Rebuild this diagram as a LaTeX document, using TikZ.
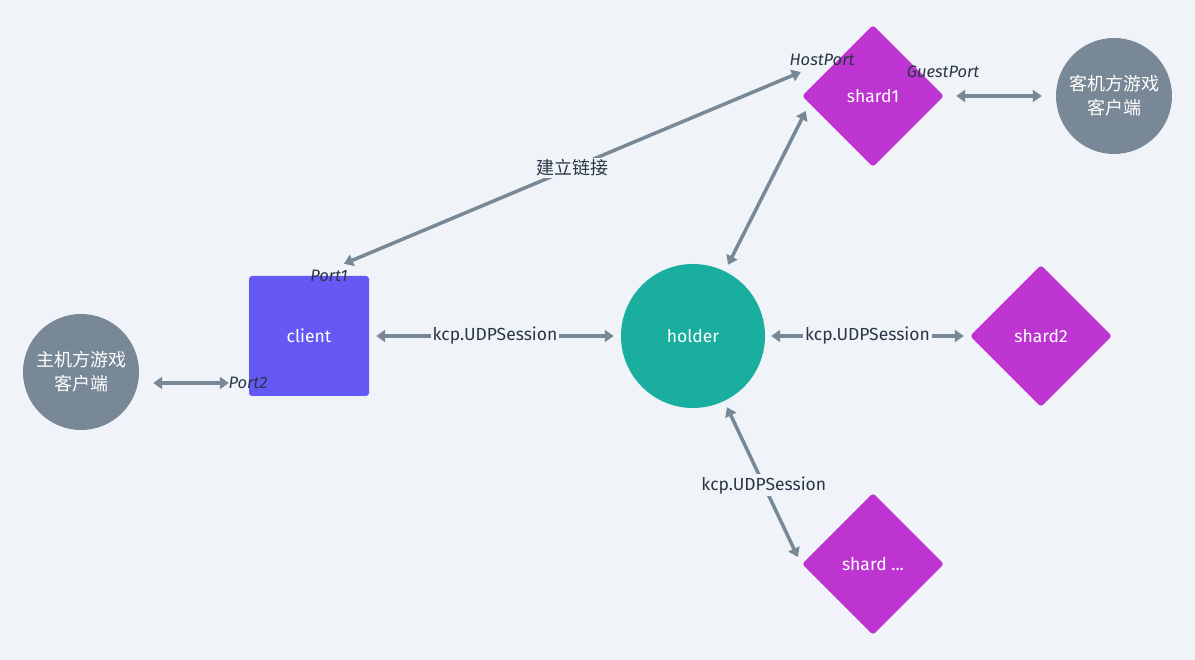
\documentclass[tikz,border=0pt]{standalone}
\usepackage{fontspec}
\setmainfont{Fira Sans}
\newfontfamily\cjk{Noto Sans CJK SC}
\usetikzlibrary{shapes.geometric,arrows.meta}
\definecolor{bg}{RGB}{240,244,248}
\definecolor{clientc}{RGB}{101,88,245}
\definecolor{holderc}{RGB}{26,174,159}
\definecolor{shardc}{RGB}{189,52,209}
\definecolor{greyc}{RGB}{120,136,150}
\definecolor{txt}{RGB}{41,54,70}
\tikzset{
  lbl/.style={font=\fontsize{17.5}{21}\selectfont, text=txt, fill=bg, inner sep=2pt},
  portlbl/.style={font=\fontsize{16.5}{20}\selectfont\itshape, text=txt, inner sep=0pt},
  conn/.style={draw=greyc, line width=3.5pt, {Triangle[length=9pt,width=12pt]}-{Triangle[length=9pt,width=12pt]}},
  shardbox/.style={diamond, aspect=1, fill=shardc, minimum width=142pt, minimum height=142pt, inner sep=0pt, rounded corners=3pt, text=white, font=\fontsize{17.5}{21}\selectfont},
  gamec/.style={circle, fill=greyc, minimum size=116pt, inner sep=0pt, text=white, align=center, font=\cjk\fontsize{18}{24}\selectfont},
}
\begin{document}
\begin{tikzpicture}[x=1pt,y=-1pt]
\fill[bg] (0,0) rectangle (1195,660);
\useasboundingbox (0,0) rectangle (1195,660);

\node[rectangle, fill=clientc, minimum size=120pt, inner sep=0pt, rounded corners=3pt, text=white, font=\fontsize{17.5}{21}\selectfont] (client) at (309,336) {client};
\node[circle, fill=holderc, minimum size=144pt, inner sep=0pt, text=white, font=\fontsize{17.5}{21}\selectfont] (holder) at (693,336) {holder};
\node[shardbox] (shard1) at (873,96) {shard1};
\node[shardbox] (shard2) at (1041,336) {shard2};
\node[shardbox] (shardn) at (873,564) {shard ...};
\node[gamec] (host) at (81,372) {主机方游戏\\客户端};
\node[gamec] (guest) at (1114,96) {客机方游戏\\客户端};

% connector end points
\coordinate (p2a) at ([shift={(14,11)}]host.east);
\coordinate (p2b) at ([shift={(-20,47)}]client.west);
\coordinate (c1) at ([shift={(35,-12)}]client.north);
\coordinate (s1h) at ([shift={(-1,-24)}]shard1.west);
\coordinate (s1b) at ([shift={(4,15)}]shard1.west);
\coordinate (hb) at ([shift={(35,1)}]holder.north);
\coordinate (hs) at ([shift={(34,-1)}]holder.south);
\coordinate (snb) at ([shift={(-4,-7)}]shardn.west);
\coordinate (s1e) at ([shift={(12,0)}]shard1.east);
\coordinate (ge) at ([shift={(-14,0)}]guest.west);

\draw[conn] (p2a) -- (p2b);
\draw[conn] ([xshift=7pt]client.east) -- node[lbl]{kcp.UDPSession} ([xshift=-7pt]holder.west);
\draw[conn] ([xshift=6pt]holder.east) -- node[lbl]{kcp.UDPSession} ([xshift=-6pt]shard2.west);
\draw[conn] (hs) -- node[lbl, pos=0.52]{kcp.UDPSession} (snb);
\draw[conn] (hb) -- (s1b);
\draw[conn] (s1e) -- (ge);
\draw[conn] (c1) -- node[lbl, font=\cjk\fontsize{18}{21}\selectfont, pos=0.5]{建立链接} (s1h);

\node[portlbl] (hp) at (822,60) {HostPort};
\node[portlbl] (gp) at (943,72) {GuestPort};
\node[portlbl] (p1) at (329,276) {Port1};
\node[portlbl] (p2) at (248,383) {Port2};
\end{tikzpicture}
\end{document}
